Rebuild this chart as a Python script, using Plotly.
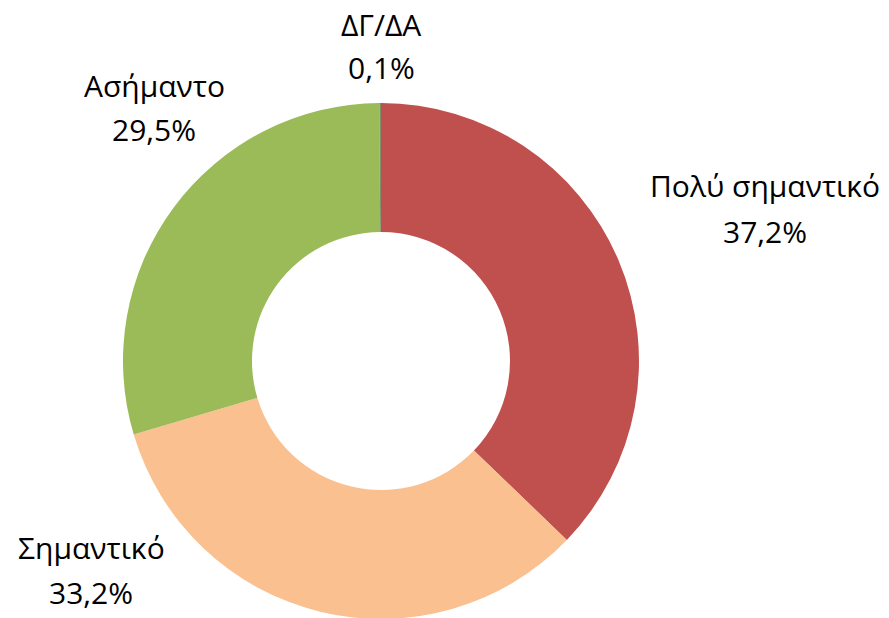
import plotly.graph_objects as go

# Δεδομένα
labels = ["Πολύ σημαντικό", "Σημαντικό", "Ασήμαντο", "ΔΓ/ΔΑ"]
values = [37.2, 33.2, 29.5, 0.1]
colors = ["#C0504D", "#FAC090", "#9BBB59", "#7F8F6A"]

# θέσεις ετικετών (pixel: x, y ονόματος, y ποσοστού) - η σελίδα έχει περιθώριο 8px
label_pos = [(757, 177, 223), (83, 539, 584), (146, 78, 122), (373, 17, 59)]

W, H = 889, 618

fig = go.Figure()
fig.add_trace(go.Pie(
    labels=labels,
    values=values,
    marker=dict(colors=colors, line=dict(width=0)),
    hole=0.5,
    sort=False,
    direction='clockwise',
    rotation=0,
    textinfo='none',
    hoverinfo='label+percent',
    showlegend=False,
    domain=dict(x=[115 / W, 631 / W], y=[7 / H, 523 / H]),
))

font = dict(family="'Open Sans', sans-serif", size=30, color="black")
for lab, val, (px, py1, py2) in zip(labels, values, label_pos):
    pct = f"{val:.1f}".replace('.', ',') + "%"
    for txt, py in [(lab, py1), (pct, py2)]:
        fig.add_annotation(
            x=px / W, y=1 - py / H,
            xref='paper', yref='paper',
            text=txt, showarrow=False,
            xanchor='center', yanchor='middle',
            borderpad=0,
            font=font,
        )

fig.update_layout(
    width=W, height=H,
    margin=dict(l=0, r=0, t=0, b=0),
    paper_bgcolor='white',
    plot_bgcolor='white',
)

fig.write_html("out.html")
